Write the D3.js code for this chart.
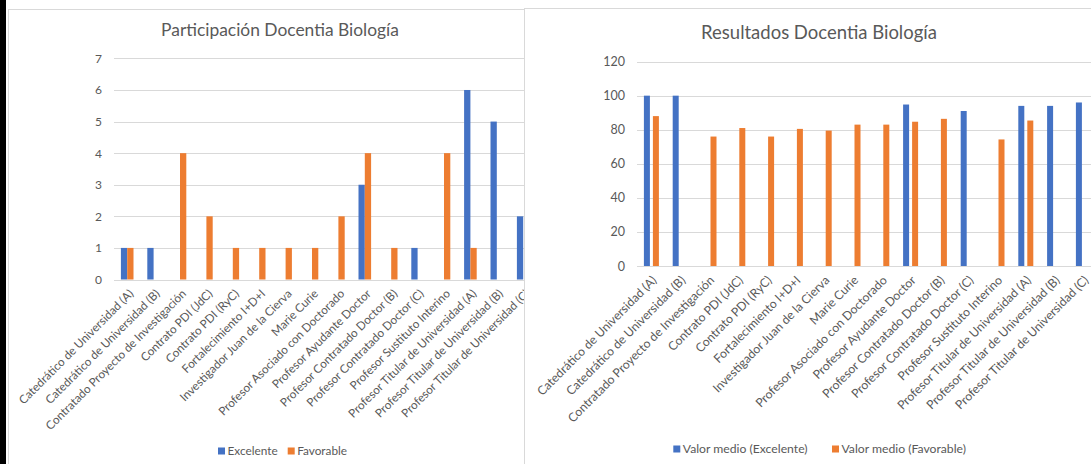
<!DOCTYPE html>
<html>
<head>
<meta charset="utf-8">
<script src="https://cdn.jsdelivr.net/npm/d3@7"></script>
<style>
  html, body { margin: 0; padding: 0; background: #ffffff; }
  svg { display: block; }
  text { font-family: Lato, "Open Sans", sans-serif; fill: #595959; }
</style>
</head>
<body>
<svg id="chart" width="1091" height="464"></svg>
<script>
// ---------- DATA ----------
const categories = [
  "Catedrático de Universidad (A)",
  "Catedrático de Universidad (B)",
  "Contratado Proyecto de Investigación",
  "Contrato PDI (JdC)",
  "Contrato PDI (RyC)",
  "Fortalecimiento I+D+I",
  "Investigador Juan de la Cierva",
  "Marie Curie",
  "Profesor Asociado con Doctorado",
  "Profesor Ayudante Doctor",
  "Profesor Contratado Doctor (B)",
  "Profesor Contratado Doctor (C)",
  "Profesor Sustituto Interino",
  "Profesor Titular de Universidad (A)",
  "Profesor Titular de Universidad (B)",
  "Profesor Titular de Universidad (C)"
];

const participacionExcelente = [1, 1, null, null, null, null, null, null, null, 3, null, 1, null, 6, 5, 2];
const participacionFavorable = [1, null, 4, 2, 1, 1, 1, 1, 2, 4, 1, null, 4, 1, null, null];

const resultadosExcelente = [100, 100, null, null, null, null, null, null, null, 94.8, null, 91, null, 94, 94, 96];
const resultadosFavorable = [88, null, 76, 81, 76, 80.5, 79.5, 83, 83, 84.7, 86.4, null, 74.3, 85.4, null, null];

const participacionTicks = [0, 1, 2, 3, 4, 5, 6, 7];
const resultadosTicks = [0, 20, 40, 60, 80, 100, 120];

const participacionSeries = ["Excelente", "Favorable"];
const resultadosSeries = ["Valor medio (Excelente)", "Valor medio (Favorable)"];

const colors = ["#4472C4", "#ED7D31"];

// ---------- DRAW ----------
const svg = d3.select("#chart");

// dark strip at left edge
svg.append("rect").attr("x", 0).attr("y", 0).attr("width", 6).attr("height", 464).attr("fill", "#000");

function fitFont(sel, base, target) {
  sel.style("font-size", base + "px");
  const w = sel.node().getComputedTextLength();
  if (w > 0) sel.style("font-size", (base * target / w) + "px");
}

function drawPanel(cfg) {
  const g = svg.append("g");
  g.append("rect")
    .attr("x", cfg.panel[0]).attr("y", cfg.panel[1])
    .attr("width", cfg.panel[2]).attr("height", cfg.panel[3])
    .attr("fill", "#fff").attr("stroke", "#d9d9d9").attr("stroke-width", 1);

  const y = d3.scaleLinear().domain(cfg.yDomain).range(cfg.yRange);
  const x0 = d3.scaleBand().domain(categories)
    .range([cfg.plotX, cfg.plotX + cfg.step * categories.length]).padding(0);
  const inner = (cfg.step - cfg.group) / 2;
  const x1 = d3.scaleBand().domain(cfg.series)
    .range([inner, inner + cfg.group]).paddingInner(cfg.innerPad).paddingOuter(0);

  const clipId = "clip" + cfg.id;
  g.append("clipPath").attr("id", clipId).append("rect")
    .attr("x", cfg.panel[0]).attr("y", cfg.panel[1])
    .attr("width", cfg.panel[2]).attr("height", cfg.panel[3]);
  const body = g.append("g").attr("clip-path", `url(#${clipId})`);

  // gridlines
  body.append("g").selectAll("line").data(cfg.ticks).join("line")
    .attr("x1", cfg.plotX).attr("x2", cfg.plotX + cfg.step * categories.length)
    .attr("y1", d => Math.round(y(d)) + 0.5).attr("y2", d => Math.round(y(d)) + 0.5)
    .attr("stroke", "#d9d9d9").attr("stroke-width", 1);

  // y axis labels
  const yAxis = d3.axisLeft(y).tickValues(cfg.ticks).tickFormat(d3.format("d")).tickSize(0).tickPadding(0);
  const ya = body.append("g").attr("transform", `translate(${cfg.labelRight},0)`).call(yAxis);
  ya.select(".domain").remove();
  ya.selectAll("text").style("font-size", cfg.tickFont + "px").style("fill", "#595959")
    .style("font-family", "Lato, sans-serif");

  // bars
  const data = [cfg.values[0], cfg.values[1]];
  categories.forEach((c, i) => {
    cfg.series.forEach((s, j) => {
      const v = data[j][i];
      if (v == null) return;
      body.append("rect")
        .attr("x", x0(c) + x1(s))
        .attr("y", y(v))
        .attr("width", x1.bandwidth())
        .attr("height", y(0) - y(v))
        .attr("fill", colors[j]);
    });
  });

  // category axis
  const xAxis = d3.axisBottom(x0).tickSize(0).tickPadding(0);
  const xa = body.append("g").attr("transform", `translate(0,${y(0)})`).call(xAxis);
  xa.select(".domain").remove();
  xa.selectAll(".tick text")
    .attr("text-anchor", "end")
    .attr("dy", "0.35em")
    .attr("transform", `translate(${cfg.labelDx},${cfg.labelDy}) rotate(-45)`)
    .attr("y", 0)
    .style("font-size", cfg.catFont + "px").style("fill", "#595959")
    .style("font-family", "Lato, sans-serif");

  // title
  const t = g.append("text").attr("x", cfg.titleX).attr("y", cfg.titleY)
    .attr("text-anchor", "middle")
    .text(cfg.title);
  fitFont(t, 16, cfg.titleWidth);

  // legend
  cfg.series.forEach((s, j) => {
    g.append("rect").attr("x", cfg.legend[j]).attr("y", cfg.legendY - 3.5)
      .attr("width", 7).attr("height", 7).attr("fill", colors[j]);
    g.append("text").attr("x", cfg.legend[j] + 9.5).attr("y", cfg.legendY)
      .attr("dy", "0.35em").style("font-size", cfg.legendFont + "px").text(s);
  });
}

drawPanel({
  id: "L",
  panel: [8.5, 9.5, 600, 470],
  yDomain: [0, 7], yRange: [279.5, 58.4], ticks: participacionTicks,
  plotX: 114, step: 26.4, group: 12.6, innerPad: 0,
  labelRight: 102, tickFont: 12,
  values: [participacionExcelente, participacionFavorable],
  series: participacionSeries,
  labelDx: 4, labelDy: 12, catFont: 11.7,
  title: "Participación Docentia Biología", titleX: 280, titleY: 36, titleWidth: 238,
  legend: [218, 287.7], legendY: 451, legendFont: 11.8
});

drawPanel({
  id: "R",
  panel: [524.5, 8.5, 600, 470],
  yDomain: [0, 120], yRange: [266, 61.6], ticks: resultadosTicks,
  plotX: 637, step: 28.8, group: 15, innerPad: 1 / 3,
  labelRight: 625, tickFont: 12.5,
  values: [resultadosExcelente, resultadosFavorable],
  series: resultadosSeries,
  labelDx: 3, labelDy: 12, catFont: 12.2,
  title: "Resultados Docentia Biología", titleX: 819, titleY: 39, titleWidth: 236,
  legend: [673.3, 832], legendY: 449, legendFont: 12.2
});
</script>
</body>
</html>
